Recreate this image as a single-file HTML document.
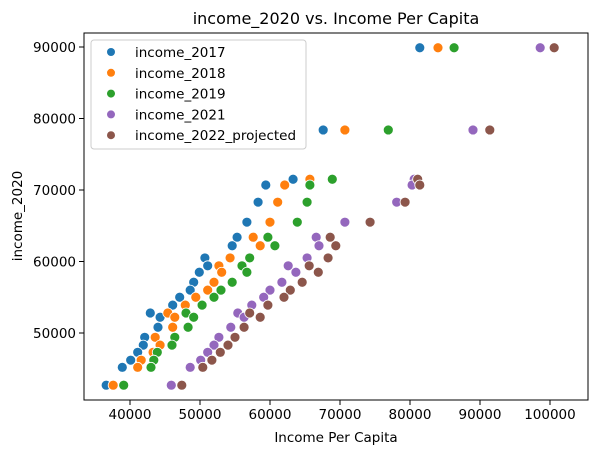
<!DOCTYPE html>
<html><head><meta charset="utf-8">
<style>
body{margin:0;background:#fff;}
svg text{font-family:"DejaVu Sans","Liberation Sans",sans-serif;fill:#000;}
</style></head>
<body>
<svg id="chart" width="602" height="455" xmlns="http://www.w3.org/2000/svg"></svg>
<script>
const income2020 = [89900,78400,71500,70700,68300,65500,63400,62200,60500,59400,58500,57100,56000,55000,53900,52800,52200,50800,49400,48300,47300,46200,45200,42700];
const income2017 = [81400,67600,63300,59400,58300,56700,55300,54600,50700,51100,49900,49100,48600,47100,46100,42900,44300,44000,42100,41900,41100,40100,38900,36600];
const income2018 = [84000,70700,65700,62100,61100,60000,57600,58600,54300,52700,53100,52000,51100,49400,47900,45400,46400,46100,43600,44300,43300,41600,41100,37600];
const income2019 = [86300,76900,68900,65700,65300,63900,59700,60700,57100,56000,56700,54600,53000,52000,50300,48000,49100,48300,46400,46000,43900,43400,43000,39100];
const income2021 = [98600,89000,80600,80300,78100,70700,66600,67000,65300,62600,63700,61700,60000,59100,57400,55400,56300,54400,52700,52000,51100,50100,48600,45900];
const income2022 = [100600,91400,81100,81400,79300,74300,68600,69400,68300,65600,66900,64600,62900,62000,59700,57100,58600,56300,55000,54000,52900,51700,50400,47400];
const seriesNames = ["income_2017","income_2018","income_2019","income_2021","income_2022_projected"];
const seriesData = [income2017,income2018,income2019,income2021,income2022];
const xTicks = [40000,50000,60000,70000,80000,90000,100000];
const yTicks = [50000,60000,70000,80000,90000];
const colors = ["#1f77b4","#ff7f0e","#2ca02c","#9467bd","#8c564b"];

const L=84,R=588,T=33,B=400;
const xMin=33430,xMax=105430,yMin=40630,yMax=91960;
function xs(v){return L+(v-xMin)/(xMax-xMin)*(R-L);}
function ys(v){return B-(v-yMin)/(yMax-yMin)*(B-T);}
const svg=document.getElementById('chart');
const NS="http://www.w3.org/2000/svg";
function mk(tag,attrs,parent){const e=document.createElementNS(NS,tag);for(const k in attrs)e.setAttribute(k,attrs[k]);(parent||svg).appendChild(e);return e;}

const title=mk('text',{x:336,y:24,'text-anchor':'middle','font-size':16});
title.textContent="income_2020 vs. Income Per Capita";



const pts=mk('g',{});


seriesData.forEach((arr,si)=>{
  const g=mk('g',{},pts);
  
  
  arr.forEach((v,i)=>{
    const c=mk('circle',{cx:xs(v),cy:ys(income2020[i]),r:5,fill:colors[si],stroke:'#fff','stroke-width':0.8},g);
    
    
  });
});

const frame=mk('rect',{x:L,y:T,width:R-L,height:B-T,fill:'none',stroke:'#000','stroke-width':1});



const xg=mk('g',{});


xTicks.forEach(t=>{
  const x=xs(t);
  mk('line',{x1:x,x2:x,y1:B,y2:B+5,stroke:'#000','stroke-width':1},xg);
  const tx=mk('text',{x:x,y:B+19,'text-anchor':'middle','font-size':13.5},xg);
  tx.textContent=t;
  
  
});
const yg=mk('g',{});


yTicks.forEach(t=>{
  const y=ys(t);
  mk('line',{x1:L-5,x2:L,y1:y,y2:y,stroke:'#000','stroke-width':1},yg);
  const tx=mk('text',{x:L-8,y:y+5,'text-anchor':'end','font-size':13.5},yg);
  tx.textContent=t;
  
  
});
const xl=mk('text',{x:336,y:442,'text-anchor':'middle','font-size':13.5});
xl.textContent="Income Per Capita";


const yl=mk('text',{x:0,y:0,'text-anchor':'middle','font-size':13.5,transform:'translate(22,216) rotate(-90)'});
yl.textContent="income_2020";



const lg=mk('g',{});


mk('rect',{x:91,y:40,width:215,height:109,rx:3,fill:'#fff','fill-opacity':0.8,stroke:'#ccc','stroke-width':1},lg);
seriesNames.forEach((n,i)=>{
  const y=52+i*20.8;
  const e=mk('g',{},lg);
  
  
  mk('circle',{cx:111,cy:y,r:4,fill:colors[i]},e);
  const t=mk('text',{x:135,y:y+5,'font-size':13.5},e);
  t.textContent=n;
});
</script>
</body></html>
